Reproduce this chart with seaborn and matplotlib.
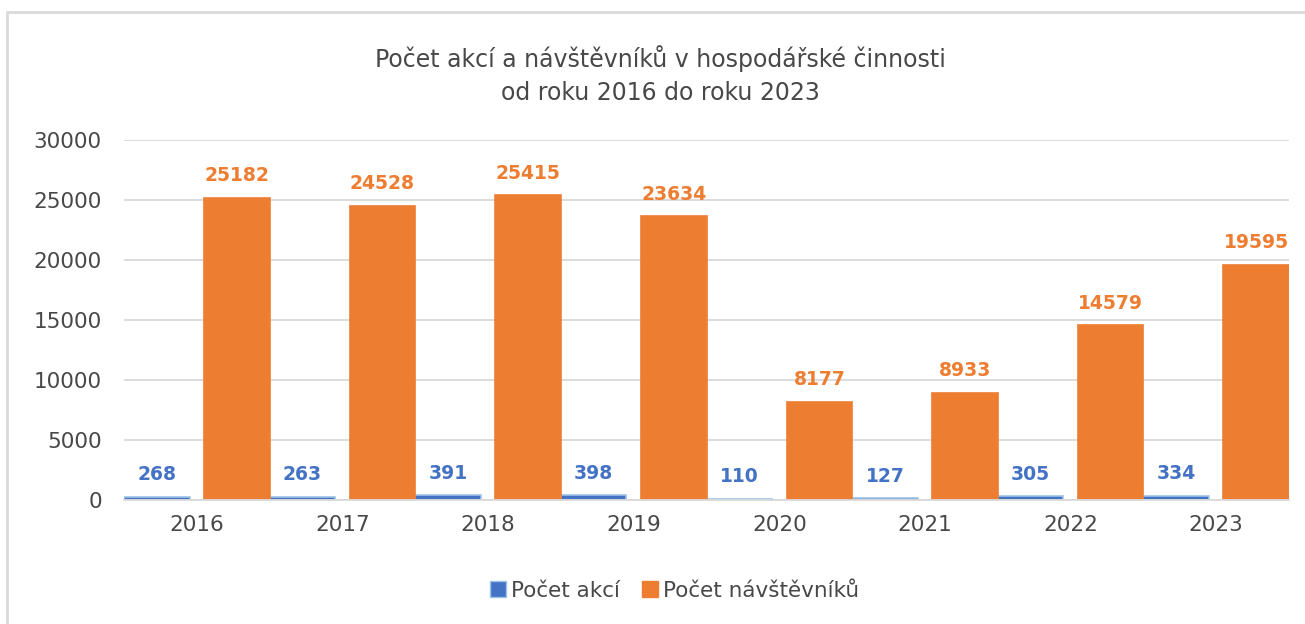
import pandas as pd
import matplotlib.pyplot as plt
import seaborn as sns
from matplotlib.lines import Line2D

# ========= Data =========
years = ['2016', '2017', '2018', '2019', '2020', '2021', '2022', '2023']
akce = [268, 263, 391, 398, 110, 127, 305, 334]
navstevnici = [25182, 24528, 25415, 23634, 8177, 8933, 14579, 19595]
series_names = ['Počet akcí', 'Počet návštěvníků']

df = pd.DataFrame({
    'rok': years * 2,
    'hodnota': akce + navstevnici,
    'serie': [series_names[0]] * len(years) + [series_names[1]] * len(years),
})

# ========= Plotting =========
sns.set_style('white')
plt.rcParams['font.family'] = ['DejaVu Sans']

blue = '#4472C4'
orange = '#ED7D31'
grey_txt = '#484848'

fig = plt.figure(figsize=(13.05, 6.24), dpi=100)
ax = fig.add_axes([124 / 1305, 1 - 500 / 624, (1289 - 124) / 1305, 360 / 624])

sns.barplot(data=df, x='rok', y='hodnota', hue='serie', palette=[blue, orange],
            width=1.0, gap=0.1, saturation=1, legend=False, ax=ax)

# push the two series apart a bit (Excel look: gap inside group, none between)
for cont, shift, ec in zip(ax.containers, [-0.025, 0.025], ['#9DC3E6', orange]):
    for p in cont:
        p.set_x(p.get_x() + shift)
        p.set_edgecolor(ec)
        p.set_linewidth(1.2)

for cont, col in zip(ax.containers, [blue, orange]):
    ax.bar_label(cont, padding=9, color=col, fontsize=13.5, fontweight='bold')

ax.set_xlim(-0.5, 7.5)
ax.set_ylim(0, 30000)
ax.set_yticks(range(0, 30001, 5000))
ax.yaxis.grid(True, color='#D9D9D9', linewidth=1.3)
ax.set_axisbelow(True)
for s in ['top', 'right', 'left']:
    ax.spines[s].set_visible(False)
ax.spines['bottom'].set_color('#D9D9D9')
ax.spines['bottom'].set_linewidth(1.3)
ax.tick_params(axis='both', length=0, labelsize=15.5, labelcolor=grey_txt)
ax.tick_params(axis='y', pad=16)
ax.tick_params(axis='x', pad=11)
ax.set_xlabel('')
ax.set_ylabel('')

fig.text(0.506, 1 - 75 / 624, 'Počet akcí a návštěvníků v hospodářské činnosti\nod roku 2016 do roku 2023',
         ha='center', va='center', fontsize=17, color=grey_txt, linespacing=1.5)

handles = [Line2D([], [], marker='s', linestyle='', markersize=11, markerfacecolor=blue,
                  markeredgecolor='#9DC3E6'),
           Line2D([], [], marker='s', linestyle='', markersize=11, markerfacecolor=orange,
                  markeredgecolor=orange)]
fig.legend(handles, series_names, loc='center', bbox_to_anchor=(0.515, 1 - 591 / 624), ncol=2,
           frameon=False, fontsize=15.5, handletextpad=0.0, columnspacing=0.8,
           handlelength=1.2, labelcolor=grey_txt)

# light frame round the chart area
fig.add_artist(Line2D([7 / 1305, 7 / 1305], [0, 1 - 12 / 624], transform=fig.transFigure,
                      color='#D9D9D9', linewidth=2))
fig.add_artist(Line2D([7 / 1305, 1], [1 - 12 / 624, 1 - 12 / 624], transform=fig.transFigure,
                      color='#D9D9D9', linewidth=2))

fig.savefig('out.png', dpi=100)
